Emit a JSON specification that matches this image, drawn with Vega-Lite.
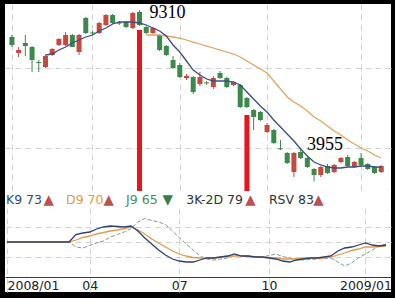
{
  "$schema": "https://vega.github.io/schema/vega-lite/v6.json",
  "background": "#000000",
  "padding": {"left": 4, "top": 4, "right": 5, "bottom": 6},
  "bounds": "flush",
  "spacing": 0,
  "config": {
    "view": {"stroke": null, "fill": "#ffffff"},
    "font": "DejaVu Sans",
    "axis": {"title": null, "ticks": false, "labels": false, "domain": false, "grid": false, "gridColor": "#d2d2d2", "gridDash": [6, 4], "gridWidth": 1, "domainColor": "#3a3a3a", "domainWidth": 1}
  },
  "datasets": {
    "w": [
      {"date":"2008/01/11","o":8469,"h":8531,"l":8156,"c":8219,"K":50,"D":50,"J":50},
      {"date":"2008/01/18","o":7969,"h":8156,"l":7844,"c":8063,"K":50,"D":50,"J":50},
      {"date":"2008/01/25","o":8281,"h":8531,"l":7875,"c":8187,"K":50,"D":50,"J":50},
      {"date":"2008/02/01","o":8156,"h":8188,"l":7375,"c":7750,"K":50,"D":50,"J":50},
      {"date":"2008/02/08","o":7687,"h":7750,"l":7375,"c":7656,"K":50,"D":50,"J":50},
      {"date":"2008/02/15","o":7531,"h":7906,"l":7500,"c":7875,"m1":7906,"K":50,"D":50,"J":50},
      {"date":"2008/02/22","o":7906,"h":8125,"l":7875,"c":8094,"m1":7937,"K":50,"D":50,"J":50},
      {"date":"2008/02/29","o":8219,"h":8437,"l":8187,"c":8406,"m1":8062,"K":50,"D":50,"J":50},
      {"date":"2008/03/07","o":8219,"h":8625,"l":8187,"c":8531,"m1":8156,"K":50,"D":50,"J":50},
      {"date":"2008/03/14","o":8531,"h":8562,"l":8156,"c":8156,"m1":8281,"K":50,"D":50,"J":50},
      {"date":"2008/03/21","o":8000,"h":8562,"l":7906,"c":8531,"m1":8375,"K":65,"D":54,"J":40},
      {"date":"2008/03/28","o":9062,"h":9094,"l":8562,"c":8594,"m1":8469,"K":68,"D":59,"J":38},
      {"date":"2008/04/04","o":8610,"h":8656,"l":8531,"c":8580,"m1":8531,"K":70,"D":62,"J":43},
      {"date":"2008/04/11","o":8594,"h":8937,"l":8562,"c":8906,"m1":8656,"K":76,"D":66,"J":48},
      {"date":"2008/04/18","o":8844,"h":9187,"l":8812,"c":9156,"m1":8750,"K":80,"D":69,"J":52},
      {"date":"2008/04/25","o":9156,"h":9187,"l":8875,"c":8906,"m1":8875,"K":82,"D":72,"J":60},
      {"date":"2008/05/02","o":8890,"h":8969,"l":8844,"c":8920,"m1":8937,"K":81,"D":74,"J":65},
      {"date":"2008/05/09","o":8937,"h":8969,"l":8750,"c":8781,"m1":8937,"K":80,"D":77,"J":70},
      {"date":"2008/05/16","o":8750,"h":9250,"l":8719,"c":9219,"m1":8937,"K":82,"D":80,"J":77},
      {"date":"2008/05/23","o":9250,"h":9310,"l":8812,"c":8844,"m1":8906,"K":72,"D":74,"J":90},
      {"date":"2008/05/30","o":8781,"h":8812,"l":8562,"c":8594,"m1":8844,"m2":8531,"K":58,"D":66,"J":97},
      {"date":"2008/06/06","o":8594,"h":8781,"l":8562,"c":8750,"m1":8750,"m2":8531,"K":46,"D":56,"J":93},
      {"date":"2008/06/13","o":8531,"h":8562,"l":8031,"c":8062,"m1":8656,"m2":8531,"K":34,"D":48,"J":90},
      {"date":"2008/06/20","o":8187,"h":8219,"l":7875,"c":7906,"m1":8500,"m2":8500,"K":24,"D":40,"J":85},
      {"date":"2008/06/27","o":7750,"h":7875,"l":7469,"c":7500,"m1":8219,"m2":8469,"K":16,"D":32,"J":72},
      {"date":"2008/07/04","o":7594,"h":7656,"l":7187,"c":7219,"m1":8000,"m2":8437,"K":12,"D":26,"J":59},
      {"date":"2008/07/11","o":7187,"h":7312,"l":7125,"c":7250,"m1":7719,"m2":8375,"K":10,"D":22,"J":46},
      {"date":"2008/07/18","o":7219,"h":7250,"l":6687,"c":6750,"m1":7437,"m2":8312,"K":10,"D":19,"J":34},
      {"date":"2008/07/25","o":7000,"h":7375,"l":6937,"c":7219,"m1":7281,"m2":8250,"K":14,"D":18,"J":22},
      {"date":"2008/08/01","o":7050,"h":7094,"l":6969,"c":7020,"m1":7156,"m2":8187,"K":18,"D":18,"J":16},
      {"date":"2008/08/08","o":6906,"h":7250,"l":6844,"c":7187,"m1":7094,"m2":8125,"K":18,"D":18,"J":14},
      {"date":"2008/08/15","o":7344,"h":7406,"l":7156,"c":7187,"m1":7094,"m2":8062,"K":20,"D":20,"J":16},
      {"date":"2008/08/22","o":7187,"h":7219,"l":6875,"c":6906,"m1":7094,"m2":8000,"K":22,"D":21,"J":18},
      {"date":"2008/08/29","o":6969,"h":7094,"l":6937,"c":7062,"m1":7062,"m2":7937,"K":26,"D":22,"J":23},
      {"date":"2008/09/05","o":6969,"h":7000,"l":6250,"c":6281,"m1":6969,"m2":7844,"K":22,"D":22,"J":23},
      {"date":"2008/09/12","o":6562,"h":6594,"l":6250,"c":6281,"m1":6750,"m2":7719,"K":22,"D":21,"J":22},
      {"date":"2008/09/19","o":6187,"h":6219,"l":5562,"c":5969,"m1":6531,"m2":7594,"K":20,"D":20,"J":21},
      {"date":"2008/09/26","o":6125,"h":6156,"l":5844,"c":5875,"m1":6312,"m2":7469,"K":20,"D":20,"J":20},
      {"date":"2008/10/03","o":5500,"h":5781,"l":5469,"c":5719,"m1":6125,"m2":7344,"K":18,"D":19,"J":23},
      {"date":"2008/10/10","o":5562,"h":5594,"l":5125,"c":5156,"m1":5875,"m2":7094,"K":16,"D":18,"J":26},
      {"date":"2008/10/17","o":4990,"h":5250,"l":4937,"c":4960,"m1":5656,"m2":6844,"K":12,"D":16,"J":21},
      {"date":"2008/10/24","o":4844,"h":4875,"l":4500,"c":4531,"m1":5437,"m2":6594,"K":10,"D":16,"J":18},
      {"date":"2008/10/31","o":4250,"h":4875,"l":4094,"c":4844,"m1":5219,"m2":6437,"K":14,"D":16,"J":16},
      {"date":"2008/11/07","o":4875,"h":4969,"l":4656,"c":4687,"m1":4969,"m2":6312,"K":16,"D":18,"J":14},
      {"date":"2008/11/14","o":4687,"h":4719,"l":4375,"c":4406,"m1":4750,"m2":6156,"K":18,"D":18,"J":15},
      {"date":"2008/11/21","o":4344,"h":4375,"l":3955,"c":4156,"m1":4562,"m2":5969,"K":18,"D":18,"J":16},
      {"date":"2008/11/28","o":4156,"h":4437,"l":4094,"c":4406,"m1":4469,"m2":5844,"K":20,"D":18,"J":17},
      {"date":"2008/12/05","o":4437,"h":4500,"l":4187,"c":4219,"m1":4406,"m2":5687,"K":22,"D":20,"J":18},
      {"date":"2008/12/12","o":4250,"h":4500,"l":4219,"c":4469,"m1":4375,"m2":5531,"K":32,"D":24,"J":10},
      {"date":"2008/12/19","o":4562,"h":4719,"l":4531,"c":4687,"m1":4375,"m2":5406,"K":38,"D":28,"J":2},
      {"date":"2008/12/26","o":4719,"h":4781,"l":4406,"c":4437,"m1":4406,"m2":5250,"K":40,"D":33,"J":8},
      {"date":"2009/01/02","o":4406,"h":4594,"l":4375,"c":4562,"m1":4406,"m2":5125,"K":44,"D":36,"J":18},
      {"date":"2009/01/09","o":4687,"h":4844,"l":4437,"c":4469,"m1":4437,"m2":5000,"K":48,"D":40,"J":26},
      {"date":"2009/01/16","o":4500,"h":4531,"l":4312,"c":4344,"m1":4437,"m2":4906,"K":44,"D":40,"J":34},
      {"date":"2009/01/23","o":4406,"h":4437,"l":4187,"c":4219,"m1":4406,"m2":4781,"K":42,"D":41,"J":42},
      {"date":"2009/01/30","o":4250,"h":4469,"l":4219,"c":4437,"m1":4406,"m2":4687,"K":44,"D":42,"J":46}
    ],
    "marks": [
      {"date":"2008/05/23","top":8687},
      {"date":"2008/09/12","top":6031}
    ],
    "notes": [
      {"date":"2008/05/23","v":9310,"t":"9310"},
      {"date":"2008/11/21","v":3955,"t":"3955"}
    ],
    "tags": [
      {"date":"2008/01/10","t":"K9 73","k":"K"},
      {"date":"2008/02/17","t":"▲","k":"up"},
      {"date":"2008/03/11","t":"D9 70","k":"D"},
      {"date":"2008/04/18","t":"▲","k":"up"},
      {"date":"2008/05/11","t":"J9 65","k":"J"},
      {"date":"2008/06/17","t":"▼","k":"down"},
      {"date":"2008/07/11","t":"3K-2D 79","k":"X"},
      {"date":"2008/09/09","t":"▲","k":"up"},
      {"date":"2008/10/03","t":"RSV 83","k":"X"},
      {"date":"2008/11/17","t":"▲","k":"up"}
    ]
  },
  "vconcat": [
    {
      "width": 386,
      "height": 187,
      "data": {"name": "w"},
      "encoding": {
        "x": {
          "field": "date", "type": "temporal",
          "scale": {"domain": [{"year":2008,"month":1,"date":9}, {"year":2009,"month":2,"date":4}]},
          "axis": {
            "values": [{"year":2008,"month":1,"date":11},{"year":2008,"month":4,"date":4},{"year":2008,"month":7,"date":4},{"year":2008,"month":10,"date":3},{"year":2009,"month":1,"date":9}],
            "grid": true, "domain": true
          }
        }
      },
      "layer": [
        {
          "mark": {"type": "rule", "strokeWidth": 1},
          "encoding": {
            "y": {"field": "l", "type": "quantitative", "scale": {"domain": [3656.25, 9500], "nice": false, "zero": false}, "axis": {"values": [5000, 7500], "grid": true}},
            "y2": {"field": "h"},
            "color": {"condition": {"test": "datum.c >= datum.o", "value": "#c8473f"}, "value": "#3a8a4b"}
          }
        },
        {
          "mark": {"type": "bar", "size": 5},
          "encoding": {
            "y": {"field": "o", "type": "quantitative"},
            "y2": {"field": "c"},
            "color": {"condition": {"test": "datum.c >= datum.o", "value": "#c8473f"}, "value": "#3a8a4b"}
          }
        },
        {
          "mark": {"type": "line", "color": "#e3a35f", "strokeWidth": 1.3},
          "encoding": {"y": {"field": "m2", "type": "quantitative"}}
        },
        {
          "mark": {"type": "line", "color": "#3b4d80", "strokeWidth": 1.3},
          "encoding": {"y": {"field": "m1", "type": "quantitative"}}
        },
        {
          "data": {"name": "marks"},
          "mark": {"type": "rule", "color": "#e8161b", "strokeWidth": 5},
          "encoding": {"y": {"field": "top", "type": "quantitative"}, "y2": {"datum": 3656.25}}
        },
        {
          "data": {"name": "notes"},
          "transform": [{"filter": "datum.t == '9310'"}],
          "mark": {"type": "text", "font": "Liberation Serif", "fontSize": 18, "align": "left", "baseline": "middle", "dx": 10, "dy": 3, "color": "#000000"},
          "encoding": {"y": {"field": "v", "type": "quantitative"}, "text": {"field": "t"}}
        },
        {
          "data": {"name": "notes"},
          "transform": [{"filter": "datum.t == '3955'"}],
          "mark": {"type": "text", "font": "Liberation Serif", "fontSize": 18, "align": "left", "baseline": "middle", "dx": -7, "dy": -36, "color": "#000000"},
          "encoding": {"y": {"field": "v", "type": "quantitative"}, "text": {"field": "t"}}
        }
      ]
    },
    {
      "width": 386,
      "height": 17,
      "data": {"name": "tags"},
      "mark": {"type": "text", "align": "left", "baseline": "middle", "font": "DejaVu Sans"},
      "encoding": {
        "x": {
          "field": "date", "type": "temporal",
          "scale": {"domain": [{"year":2008,"month":1,"date":9}, {"year":2009,"month":2,"date":4}]},
          "axis": {"domain": true, "grid": false}
        },
        "text": {"field": "t"},
        "size": {"condition": {"test": "datum.k == 'up' || datum.k == 'down'", "value": 13.5}, "value": 12.5},
        "color": {
          "field": "k", "type": "nominal", "legend": null,
          "scale": {"domain": ["K","D","J","X","up","down"], "range": ["#34467c","#e09a50","#4f8a5c","#333333","#c0504d","#3a7d4c"]}
        }
      }
    },
    {
      "width": 386,
      "height": 84,
      "data": {"name": "w"},
      "encoding": {
        "x": {
          "field": "date", "type": "temporal",
          "scale": {"domain": [{"year":2008,"month":1,"date":9}, {"year":2009,"month":2,"date":4}]},
          "axis": {
            "values": [{"year":2008,"month":1,"date":11},{"year":2008,"month":4,"date":4},{"year":2008,"month":7,"date":4},{"year":2008,"month":10,"date":3},{"year":2009,"month":1,"date":9}],
            "labelExpr": "timeFormat(datum.value, month(datum.value) == 0 ? '%Y/%m' : '%m')",
            "labels": true, "grid": true, "domain": true, "offset": -15,
            "labelFlush": 5, "labelOverlap": false, "labelPadding": 2,
            "labelFont": "DejaVu Sans", "labelFontSize": 12.5, "labelColor": "#222222"
          }
        }
      },
      "layer": [
        {
          "mark": {"type": "line", "color": "#7f9c8c", "strokeWidth": 1, "strokeDash": [4, 2]},
          "encoding": {"y": {"field": "J", "type": "quantitative", "scale": {"domain": [-50, 118], "nice": false, "zero": false}, "axis": {"values": [20, 50, 80], "grid": true}}}
        },
        {
          "mark": {"type": "line", "color": "#e39a4f", "strokeWidth": 1.3},
          "encoding": {"y": {"field": "D", "type": "quantitative"}}
        },
        {
          "mark": {"type": "line", "color": "#2f3f73", "strokeWidth": 1.3},
          "encoding": {"y": {"field": "K", "type": "quantitative"}}
        }
      ]
    }
  ]
}
